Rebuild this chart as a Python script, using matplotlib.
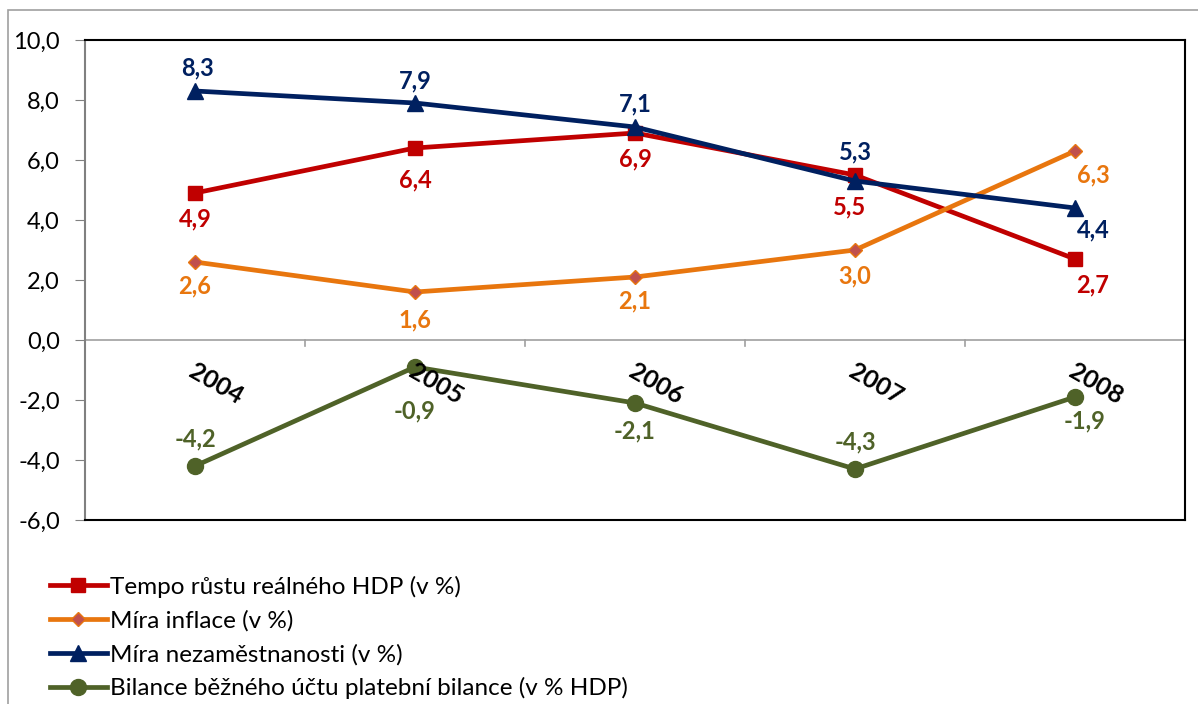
import matplotlib.pyplot as plt
from matplotlib.patches import Rectangle

years = ['2004', '2005', '2006', '2007', '2008']
hdp = [4.9, 6.4, 6.9, 5.5, 2.7]
inflace = [2.6, 1.6, 2.1, 3.0, 6.3]
nezam = [8.3, 7.9, 7.1, 5.3, 4.4]
bilance = [-4.2, -0.9, -2.1, -4.3, -1.9]

names = ['Tempo růstu reálného HDP (v %)', 'Míra inflace (v %)',
         'Míra nezaměstnanosti (v %)', 'Bilance běžného účtu platební bilance (v % HDP)']

plt.rcParams['font.family'] = ['Lato', 'DejaVu Sans']

fig = plt.figure(figsize=(11.98, 7.04), dpi=100)
ax = fig.add_axes([85/1198, 1 - 520/704, 1100/1198, 480/704])

x = list(range(len(years)))
series = [
    (hdp, '#C00000', 's', 10.5, '#C00000', '#C00000'),
    (inflace, '#E8760E', 'D', 7.5, '#C0504D', '#E8760E'),
    (nezam, '#002060', '^', 11.5, '#002060', '#002060'),
    (bilance, '#4F6228', 'o', 11.5, '#4F6228', '#4F6228'),
]
# label offsets in pixels (dx, dy) per series/point
offs = [
    [(0, -26), (0, -32), (0, -26), (-5, -32), (18, -26)],
    [(0, -24), (0, -28), (0, -24), (0, -26), (18, -24)],
    [(3, 23), (0, 22), (0, 23), (0, 29), (18, -22)],
    [(0, 27), (0, -44), (0, -28), (0, 27), (10, -24)],
]

for (vals, col, mk, ms, fc, ec), off, name in zip(series, offs, names):
    ax.plot(x, vals, color=col, lw=3.4, marker=mk, ms=ms, mfc=fc, mec=ec,
            label=name, zorder=3)
    for xi, v, (dx, dy) in zip(x, vals, off):
        ax.annotate(f'{v:.1f}'.replace('.', ','), (xi, v), xytext=(dx, dy),
                    textcoords='offset pixels', ha='center', va='center',
                    color=col, fontsize=17, fontweight='bold')

ax.set_xlim(-0.5, 4.5)
ax.set_ylim(-6, 10)
ax.set_yticks(range(-6, 11, 2))
ax.set_yticklabels([f'{t:.1f}'.replace('.', ',') for t in range(-6, 11, 2)], fontsize=17)
ax.tick_params(axis='y', length=7, color='#808080', pad=11)
ax.set_xticks([])

# category axis at zero
ax.axhline(0, color='#A0A0A0', lw=1.2, zorder=1)
for b in [0.5, 1.5, 2.5, 3.5]:
    ax.plot([b, b], [0, -0.2], color='#A0A0A0', lw=1.2, zorder=1)
for xi, yr in zip(x, years):
    ax.text(xi - 0.02, -0.98, yr, rotation=-30, rotation_mode='anchor',
            ha='left', va='center', fontsize=18, fontweight='bold')

ax.spines['left'].set_color('#808080')
ax.spines['left'].set_linewidth(1.5)
for s in ['top', 'right', 'bottom']:
    ax.spines[s].set_color('black')
    ax.spines[s].set_linewidth(1.5)

fig.patches.append(Rectangle((8/1198, -0.1), 1.2, 1 - 10/704 + 0.1,
                             transform=fig.transFigure, fill=False,
                             edgecolor='#A0A0A0', lw=1.2))

fig.legend(loc='upper left', bbox_to_anchor=(40/1198, 1 - 566/704), frameon=False,
           fontsize=17.5, handlelength=2.35, handletextpad=0.15, labelspacing=0.5,
           borderaxespad=0)

fig.savefig('out.png', dpi=100)
